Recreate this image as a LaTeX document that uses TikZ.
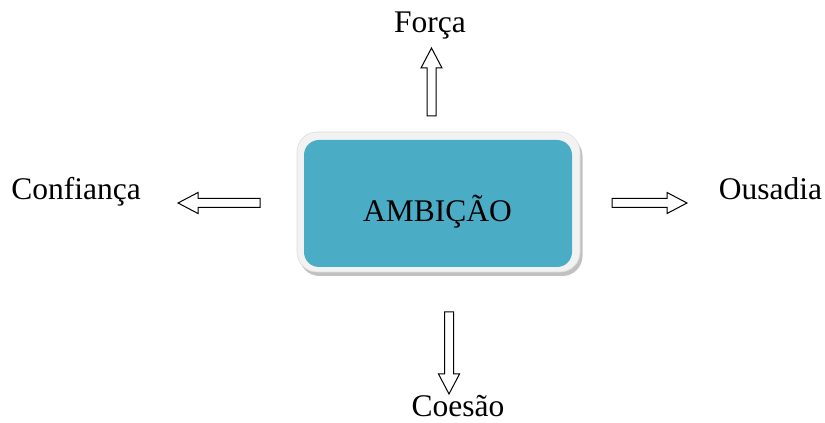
\documentclass[tikz,border=0pt]{standalone}
\usepackage{fontspec}
\setmainfont{Liberation Serif}
\usetikzlibrary{shadows}
\definecolor{boxteal}{HTML}{4BACC6}
\definecolor{framegray}{HTML}{F2F2F2}
\definecolor{frameedge}{HTML}{DDDDDD}
\begin{document}
\begin{tikzpicture}[x=1pt,y=1pt,
  label/.style={anchor=base,inner sep=0pt,font=\fontsize{31.5}{38}\selectfont},
  frame/.style={draw=frameedge,line width=0.6pt,fill=framegray,rounded corners=20pt,
    minimum width=283pt,minimum height=140pt,inner sep=0pt,
    drop shadow={shadow xshift=2.5pt,shadow yshift=-4pt,fill=black!30,opacity=0.8}},
  core/.style={fill=boxteal,rounded corners=15pt,minimum width=268pt,minimum height=127pt,inner sep=0pt},
  pics/blockarrow/.style={code={
    \draw[line width=1pt,fill=white,line join=miter]
      (0,-4.5) -- (#1-20,-4.5) -- (#1-20,-10.5) -- (#1,0) -- (#1-20,10.5)
      -- (#1-20,4.5) -- (0,4.5) -- cycle;}}]
\useasboundingbox (0,0) rectangle (825,423);

% central box: light frame with shadow and teal face
\node[frame] (outer) at (438.5,221) {};
\node[core] (amb) at (438,219.5) {};
\node[label] (ambtext) at (437.5,201) {AMBIÇÃO};

% surrounding words
\node[label] (forca) at (430,390) {Força};
\node[label] (confianca) at (76,223) {Confiança};
\node[label] (ousadia) at (770.5,223) {Ousadia};
\node[label] (coesao) at (458,6) {Coesão};

% outline arrows pointing away from the box
\coordinate (upA) at (431.5,307);
\coordinate (leftA) at (260,220);
\coordinate (rightA) at (612,220);
\coordinate (downA) at (449,111);
\pic[rotate=90] at (upA) {blockarrow=68};
\pic[rotate=180] at (leftA) {blockarrow=82};
\pic at (rightA) {blockarrow=75};
\pic[rotate=-90] at (downA) {blockarrow=82};
\end{tikzpicture}
\end{document}
